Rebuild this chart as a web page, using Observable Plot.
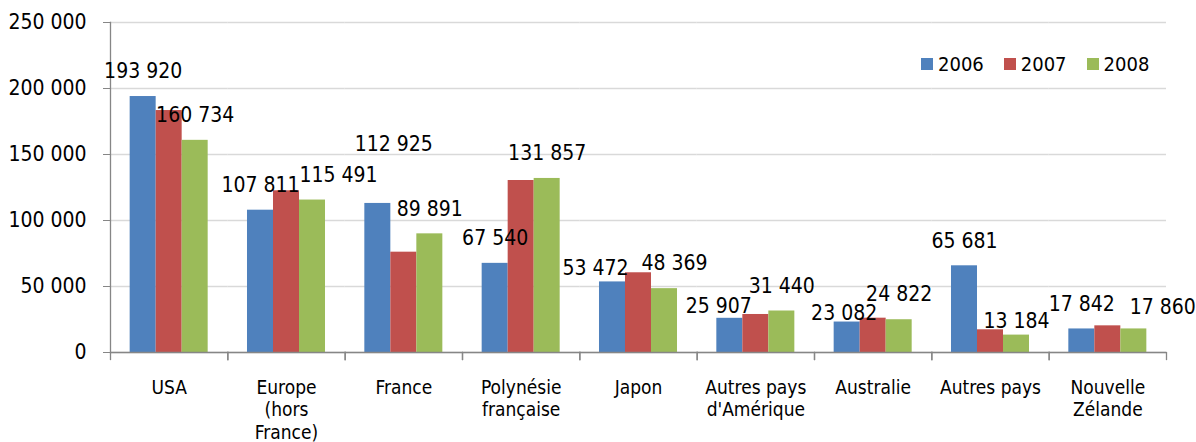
<!DOCTYPE html>
<html>
<head>
<meta charset="utf-8">
<script src="https://cdn.jsdelivr.net/npm/d3@7"></script>
<script src="https://cdn.jsdelivr.net/npm/@observablehq/plot@0.6"></script>
<style>
  body { margin: 0; background: #fff; }
  #wrap { position: relative; width: 1196px; height: 442px; }
  #legend { position: absolute; left: 921px; top: 52px; display: flex; align-items: center;
    font-family: "DejaVu Sans Condensed", "DejaVu Sans", sans-serif; font-size: 20px; line-height: 24px; color: #000; }
  #legend .sw { display: inline-block; width: 12px; height: 12px; margin-right: 5px; }
  #legend .lbl { margin-right: 20px; }
</style>
</head>
<body>
<div id="wrap"><div id="legend"></div></div>
<script>
const categories = ["USA", "Europe\n(hors\nFrance)", "France", "Polynésie\nfrançaise", "Japon",
  "Autres pays\nd'Amérique", "Australie", "Autres pays", "Nouvelle\nZélande"];
const years = ["2006", "2007", "2008"];
const values2006 = [193920, 107811, 112925, 67540, 53472, 25907, 23082, 65681, 17842];
const values2007 = [183300, 122500, 76000, 130300, 60400, 28800, 26000, 17200, 20200];
const values2008 = [160734, 115491, 89891, 131857, 48369, 31440, 24822, 13184, 17860];
const colors = ["#4F81BD", "#C0504D", "#9BBB59"];
const yTicks = [0, 50000, 100000, 150000, 200000, 250000];
const labelledYears = ["2006", "2008"];
// manual nudges [dx, dy] of some data labels, as in the original
const labelNudges = {
  "Europe\n(hors\nFrance)|2008": [26, 0],
  "France|2006": [16, -34],
  "Japon|2006": [-17, 11],
  "Japon|2008": [10, 0],
  "Autres pays\nd'Amérique|2006": [-11, 13],
  "Australie|2006": [-3, 16],
  "Autres pays|2008": [0, 11],
  "Nouvelle\nZélande|2008": [29, 3]
};

const FONT = '"DejaVu Sans Condensed", "DejaVu Sans", sans-serif';
const series = [values2006, values2007, values2008];
const table = categories.flatMap((c, i) => years.map((y, j) => ({cat: c, year: y, value: series[j][i]})));
const fmt = v => d3.format(",")(v).replace(/,/g, " ");
const labelRows = table.filter(d => labelledYears.includes(d.year));
const axisGray = "#868686";

const plot = Plot.plot({
  width: 1196, height: 442,
  marginLeft: 110, marginRight: 30, marginTop: 22, marginBottom: 90,
  style: {fontFamily: FONT, fontSize: "21px", color: "#000", background: "#fff"},
  fx: {domain: categories, padding: 0, round: false, axis: null},
  x: {domain: years, paddingInner: 0, paddingOuter: 0.756, round: false, axis: null},
  y: {domain: [0, 250000], axis: null},
  color: {domain: years, range: colors},
  marks: [
    Plot.gridY(yTicks, {stroke: "#d9d9d9", strokeOpacity: 1, strokeWidth: 1.3}),
    Plot.barY(table, {fx: "cat", x: "year", y: "value", fill: "year"}),
    Plot.ruleY([0], {stroke: axisGray, strokeWidth: 1.3}),
    Plot.frame({anchor: "left", facetAnchor: "left", stroke: axisGray, strokeWidth: 1.3}),
    Plot.frame({anchor: "left", insetTop: 330, insetBottom: -7, stroke: axisGray, strokeWidth: 1.3}),
    Plot.frame({anchor: "right", insetTop: 330, insetBottom: -7, stroke: axisGray, strokeWidth: 1.3}),
    Plot.axisY(yTicks, {tickSize: 7, tickPadding: 17, tickFormat: fmt, fontSize: 21,
      stroke: axisGray, fill: "#000", label: null}),
    Plot.axisFx({anchor: "bottom", tickSize: 0, tickPadding: 25, fontSize: 19, lineHeight: 1.2,
      label: null, fill: "#000"}),
    ...labelRows.map(d => {
      const n = labelNudges[d.cat + "|" + d.year] || [0, 0];
      return Plot.text([d], {fx: "cat", x: "year", y: "value", text: r => fmt(r.value),
        dx: n[0], dy: -25 + n[1], fontSize: 21, fill: "#000"});
    })
  ]
});
document.getElementById("wrap").prepend(plot);

const legend = document.getElementById("legend");
years.forEach((y, i) => {
  const sw = document.createElement("span");
  sw.className = "sw"; sw.style.background = colors[i];
  const lb = document.createElement("span");
  lb.className = "lbl"; lb.textContent = y;
  legend.append(sw, lb);
});
</script>
</body>
</html>
